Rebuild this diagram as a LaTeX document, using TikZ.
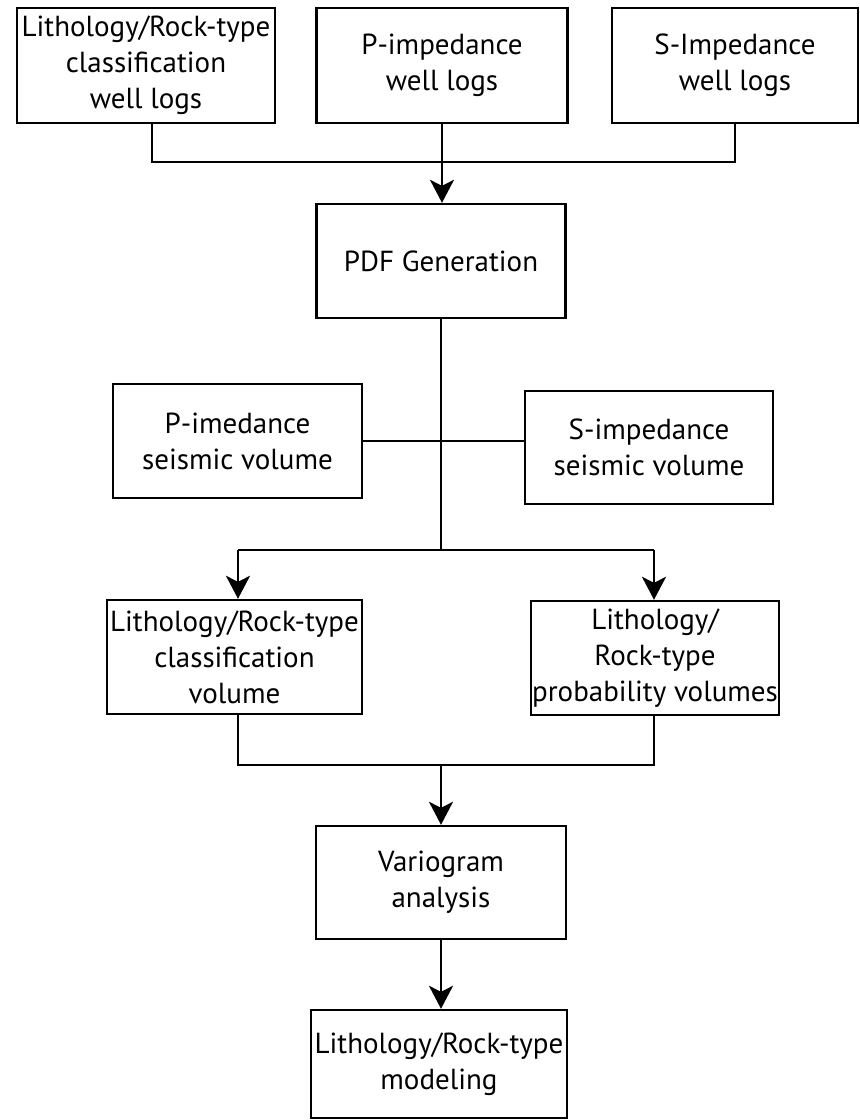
\documentclass[tikz,border=0pt]{standalone}
\usepackage{fontspec}
\setmainfont{PT Sans}
\usetikzlibrary{arrows.meta}
\begin{document}
\begin{tikzpicture}[x=1pt,y=-1pt,
  box/.style={draw=black, line width=2.4pt, rectangle, inner sep=0pt, align=center,
              font=\fontsize{29}{36}\selectfont},
  conn/.style={line width=2.4pt},
  arr/.style={line width=2.4pt, -{Stealth[length=23pt,width=24pt,inset=6pt]}}]
\useasboundingbox (0,0) rectangle (860,1120);
\fill[white] (0,0) rectangle (860,1120);
% top row
\node[box, minimum width=258pt, minimum height=115pt] (b1) at (146,65.5)
  {\raisebox{-4pt}{\begin{tabular}{@{}c@{}}Lithology/Rock-type\\classification\\well logs\end{tabular}}};
\node[box, minimum width=251pt, minimum height=115pt] (b2) at (442,65.5)
  {P-impedance\\well logs};
\node[box, minimum width=246pt, minimum height=115pt] (b3) at (735,65.5)
  {S-Impedance\\well logs};
% PDF
\node[box, minimum width=249pt, minimum height=114pt] (pdf) at (441,261)
  {PDF Generation};
% seismic volumes
\node[box, minimum width=249pt, minimum height=114pt] (pimp) at (237.5,441)
  {P-imedance\\seismic volume};
\node[box, minimum width=248pt, minimum height=113pt] (simp) at (649,447.5)
  {S-impedance\\seismic volume};
% classification / probability
\node[box, minimum width=255pt, minimum height=114pt] (cls) at (234.5,657)
  {Lithology/Rock-type\\classification\\volume};
\node[box, minimum width=248pt, minimum height=114pt] (prob) at (655,658)
  {Lithology/\\Rock-type\\probability volumes};
% variogram, modeling
\node[box, minimum width=250pt, minimum height=113pt] (vario) at (441,882.5)
  {Variogram\\analysis};
\node[box, minimum width=256pt, minimum height=108pt] (model) at (439,1064)
  {Lithology/Rock-type\\modeling};
% connectors
\coordinate (j1) at (441,162);
\draw[conn] ([xshift=6pt]b1.south) |- (j1) -| (b3.south);
\draw[arr] (b2.south) -- (b2.south |- pdf.north);
\coordinate (split) at (441,550);
\draw[conn] (pdf.south) -- (split);
\draw[conn] (pimp.east) -- (pimp.east -| simp.west);
\coordinate (sl) at (238,550);
\coordinate (sr) at (654,550);
\draw[conn] (sl) -- (sr);
\draw[arr] (sl) -- (sl |- cls.north);
\draw[arr] (sr) -- (sr |- prob.north);
\coordinate (m) at (441,765);
\draw[conn] (sl |- cls.south) |- (m) -| (sr |- prob.south);
\draw[arr] (m) -- (m |- vario.north);
\draw[arr] (vario.south) -- (vario.south |- model.north);
\end{tikzpicture}
\end{document}
